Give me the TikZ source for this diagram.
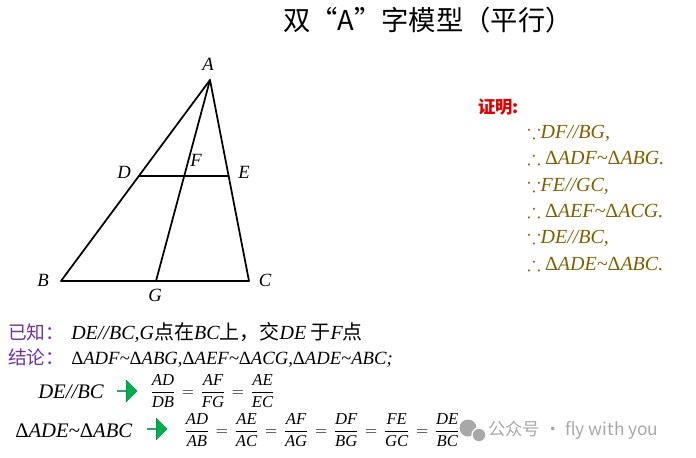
\documentclass[tikz,border=0pt]{standalone}
\usepackage{amsmath,amssymb}
\usepackage[no-math]{fontspec}
\setmainfont{Noto Sans CJK SC}
\newfontfamily\latinfont{Liberation Serif}
\usetikzlibrary{calc,positioning,shapes.arrows}

\definecolor{knowncol}{HTML}{7030A0}
\definecolor{proofred}{HTML}{E00000}
\definecolor{proofgold}{HTML}{7F6000}
\definecolor{arrowgreen}{HTML}{00B050}
\definecolor{markgray}{HTML}{A8A8A8}
\newcommand{\txtfont}{\fontsize{14}{16}\selectfont}
\newcommand{\ital}[1]{{\latinfont\itshape #1}}
\newcommand{\Dl}{{\upshape Δ}}
\newcommand{\simil}{\textasciitilde}
\newcommand{\eqs}{\mkern2mu=\mkern2mu}

\tikzstyle{edge} = [line width=1.3pt, line cap=round, line join=round]
\tikzstyle{ptlabel} = [font=\fontsize{14}{16}\selectfont, inner sep=1pt]
\tikzstyle{proofline} = [anchor=base west, text=proofgold, font=\fontsize{15}{17}\selectfont, inner sep=0pt]
\tikzstyle{textline} = [anchor=base west, font=\txtfont, inner sep=0pt]
\tikzstyle{fraction} = [anchor=west, font=\fontsize{12.5}{15}\selectfont, inner sep=0pt]
\tikzstyle{greenarrow} = [single arrow, fill=arrowgreen, draw=arrowgreen!70!black, line width=0.3pt, inner sep=0pt, minimum height=15pt, minimum width=16.5pt, single arrow head extend=4pt, single arrow head indent=0pt]

\begin{document}
\begin{tikzpicture}[x=0.75pt, y=-0.75pt]
\useasboundingbox (0,0) rectangle (696,457);
%title
\node (title) at (428,20) {\fontsize{20.5}{24}\selectfont 双“A”字模型（平行）};

%triangle
\coordinate (A) at (210,80);
\coordinate (B) at (61,281);
\coordinate (C) at (249,281);
\coordinate (G) at (156,281);
\coordinate (D) at ($(A)!0.478!(B)$);
\coordinate (E) at ($(A)!0.478!(C)$);
\coordinate (F) at ($(A)!0.478!(G)$);
\draw [edge] (A) -- (B) -- (C) -- cycle;
\draw [edge] (A) -- (G);
\draw [edge] (D) -- (E);

%labels
\node (lA) [ptlabel] at (208,64) {\ital{A}};
\node (lB) [ptlabel] at (43,280) {\ital{B}};
\node (lC) [ptlabel] at (265,280) {\ital{C}};
\node (lD) [ptlabel] at (124,172) {\ital{D}};
\node (lE) [ptlabel] at (244,172) {\ital{E}};
\node (lF) [ptlabel] at (196,160) {\ital{F}};
\node (lG) [ptlabel] at (155,295) {\ital{G}};

%proof
\node (proof) [anchor=base west, text=proofred, font=\fontsize{13}{15}\selectfont\bfseries, inner sep=0pt] at (478,113) {证明:};
\node (p1) [proofline] at (527,138) {$\because$\ital{DF//BG,}};
\node (p2) [proofline] at (527,164) {$\therefore$\ \ital{\Dl ADF\simil\Dl ABG.}};
\node (p3) [proofline] at (527,191) {$\because$\ital{FE//GC,}};
\node (p4) [proofline] at (527,217) {$\therefore$\ \ital{\Dl AEF\simil\Dl ACG.}};
\node (p5) [proofline] at (527,243) {$\because$\ital{DE//BC,}};
\node (p6) [proofline] at (527,270) {$\therefore$\ \ital{\Dl ADE\simil\Dl ABC.}};

%known and conclusion
\node (known) [textline, text=knowncol] at (8,339) {已知：};
\node (knowntxt) [textline, font=\fontsize{15}{17}\selectfont] at (71,339) {\ital{DE//BC,G}点在\ital{BC}上，交\ital{DE} 于\ital{F}点};
\node (concl) [textline, text=knowncol] at (8,364) {结论：};
\node (concltxt) [textline] at (71,364) {\ital{\Dl ADF\simil\Dl ABG,\Dl AEF\simil\Dl ACG,\Dl ADE\simil ABC;}};

%ratios
\node (par) [textline, font=\fontsize{15.5}{17}\selectfont] at (38,398) {\ital{DE//BC}};
\node (arr1) [greenarrow] at (127,391) {};
\node (frac1) [fraction] at (150,391) {$\dfrac{\text{\ital{AD}}}{\text{\ital{DB}}}\eqs\dfrac{\text{\ital{AF}}}{\text{\ital{FG}}}\eqs\dfrac{\text{\ital{AE}}}{\text{\ital{EC}}}$};
\node (sim) [textline, font=\fontsize{15.5}{17}\selectfont] at (15,437) {\ital{\Dl ADE\simil\Dl ABC}};
\node (arr2) [greenarrow] at (157,429) {};
\node (frac2) [fraction] at (184,430) {$\dfrac{\text{\ital{AD}}}{\text{\ital{AB}}}\eqs\dfrac{\text{\ital{AE}}}{\text{\ital{AC}}}\eqs\dfrac{\text{\ital{AF}}}{\text{\ital{AG}}}\eqs\dfrac{\text{\ital{DF}}}{\text{\ital{BG}}}\eqs\dfrac{\text{\ital{FE}}}{\text{\ital{GC}}}\eqs\dfrac{\text{\ital{DE}}}{\text{\ital{BC}}}$};

%watermark
\fill [markgray] (468,428) circle (8.5);
\fill [markgray, draw=white, line width=1pt] (479,435) circle (7);
\node (mark) [anchor=west, text=markgray, font=\fontsize{13}{15}\selectfont, inner sep=0pt] at (488,430) {公众号 · fly with you};
\end{tikzpicture}
\end{document}
